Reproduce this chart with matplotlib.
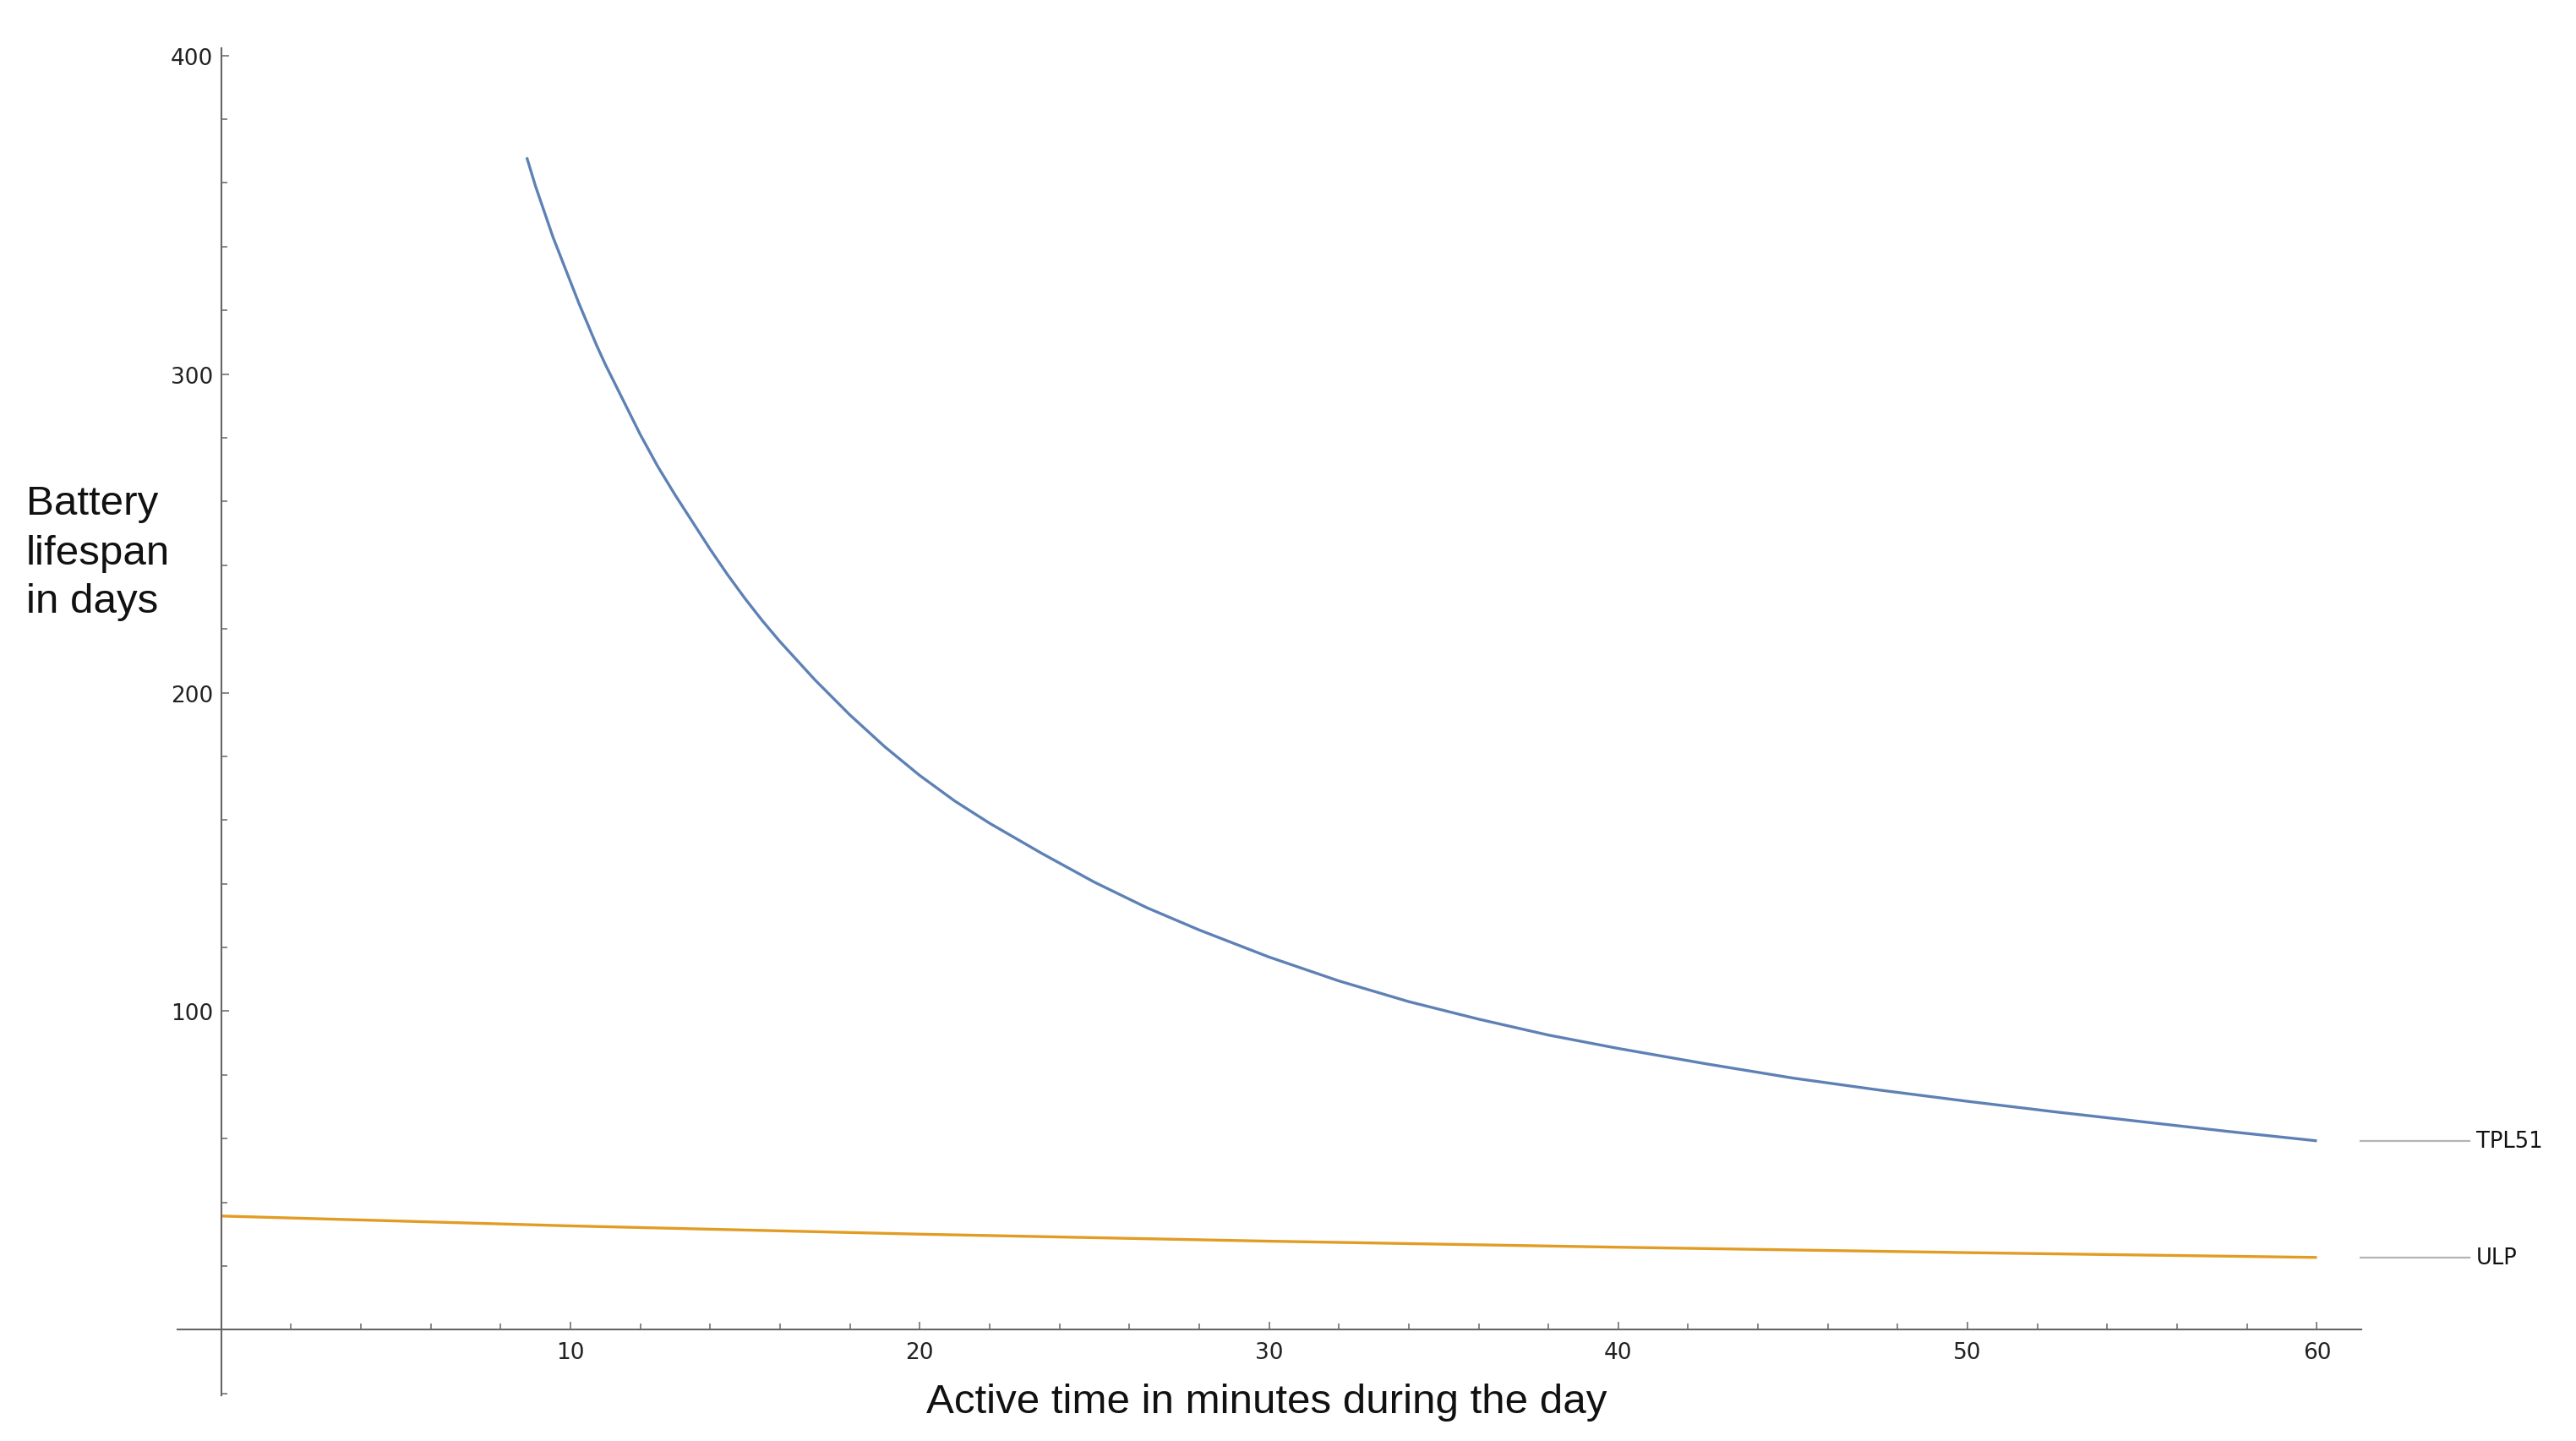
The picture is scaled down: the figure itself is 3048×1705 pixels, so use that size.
import numpy as np
import matplotlib
matplotlib.use("Agg")
import matplotlib.pyplot as plt

# ---- data ----
tpl_x = [8.75, 9.0, 9.25, 9.5, 9.75, 10.0, 10.25, 10.5, 10.75, 11.0, 11.5, 12.0, 12.5, 13.0,
         13.5, 14.0, 14.5, 15.0, 15.5, 16.0, 17.0, 18.0, 19.0, 20.0, 21.0, 22.0, 23.5,
         25.0, 26.5, 28.0, 30.0, 32.0, 34.0, 36.0, 38.0, 40.0, 42.5, 45.0, 47.5, 50.0,
         52.5, 55.0, 57.5, 60.0]
tpl_y = [368, 359, 351, 343, 336, 329, 322, 315.5, 309, 303, 292, 281, 271, 262,
         253.5, 245, 237, 229.5, 222.5, 216, 204, 193, 183, 174, 166, 159, 149.5,
         140.5, 132.5, 125.5, 117, 109.5, 103, 97.5, 92.5, 88.3, 83.5, 79, 75.2, 71.7,
         68.4, 65.3, 62.2, 59.3]
ulp_x = [0, 10, 20, 30, 40, 50, 60]
ulp_y = [35.7, 32.6, 30.0, 27.8, 25.9, 24.2, 22.7]

series_names = ["TPL51", "ULP"]
x_major = [10, 20, 30, 40, 50, 60]
y_major = [100, 200, 300, 400]
x_label = "Active time in minutes during the day"
y_label_lines = ["Battery", "lifespan", "in days"]

BLUE = "#5E81B5"
ORANGE = "#E19C24"
AXIS = "#666666"

fig = plt.figure(figsize=(30.48, 17.06), dpi=100)
W, H = 3048, 1706
# axes pixel box
left_px, right_px, top_px, bottom_px = 210, 2793.5, 58, 1652
ax = fig.add_axes([left_px / W, (H - bottom_px) / H,
                   (right_px - left_px) / W, (bottom_px - top_px) / H])
ax.set_xlim(-1.25, 61.26)
ax.set_ylim(-20.6, 402.3)

for s in ["top", "right"]:
    ax.spines[s].set_visible(False)
ax.spines["left"].set_position(("data", 0))
ax.spines["bottom"].set_position(("data", 0))
for s in ["left", "bottom"]:
    ax.spines[s].set_color(AXIS)
    ax.spines[s].set_linewidth(1.5)

ax.set_xticks(x_major)
ax.set_xticks([v for v in range(2, 61, 2) if v % 10 != 0], minor=True)
ax.set_yticks(y_major)
ax.set_yticks([v for v in range(-20, 401, 20) if v % 100 != 0 and v != 0], minor=True)
ax.set_xticklabels([str(v) for v in x_major])
ax.set_yticklabels([str(v) for v in y_major])

ax.tick_params(which="both", direction="in", color=AXIS, width=1.1,
               labelsize=19, labelcolor="#222222")
ax.tick_params(which="major", length=6.5)
ax.tick_params(which="minor", length=4.7)
ax.tick_params(axis="x", which="both", pad=10)
ax.tick_params(axis="y", which="both", pad=7)

ax.plot(tpl_x, tpl_y, color=BLUE, lw=2.4, solid_capstyle="butt", solid_joinstyle="round")
ax.plot(ulp_x, ulp_y, color=ORANGE, lw=2.4, solid_capstyle="butt")

# right-side labels with leader lines
for name, yv in zip(series_names, [tpl_y[-1], ulp_y[-1]]):
    ax.plot([61.25, 64.37], [yv, yv], color="#b4b4b4", lw=1.6, clip_on=False)
    ax.text(64.56, yv, name, fontsize=18.5, color="#111111", va="center", ha="left",
            family="DejaVu Sans", clip_on=False)

fig.text(1499 / W, (H - 1672) / H, x_label, fontsize=35.5, family="Liberation Sans",
         ha="center", va="baseline", color="#111111")
for line, base in zip(y_label_lines, [609, 668, 725]):
    fig.text(31 / W, (H - base) / H, line, fontsize=35.5, family="Liberation Sans",
             ha="left", va="baseline", color="#111111")

fig.savefig("out.png", dpi=100, facecolor="white")
